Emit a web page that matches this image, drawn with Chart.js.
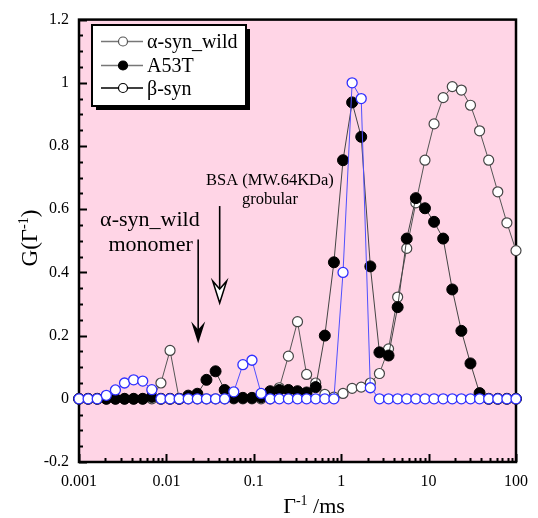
<!DOCTYPE html>
<html>
<head>
<meta charset="utf-8">
<script src="https://cdn.jsdelivr.net/npm/chart.js@4.4.1/dist/chart.umd.min.js"></script>
<style>
    html, body { margin: 0; padding: 0; background: #fff; }
    #wrap { width: 538px; height: 518px; }
</style>
</head>
<body>
<div id="wrap"><canvas id="chart" width="538" height="518"></canvas></div>
<script>
// decay time grid (ms), shared by all three samples
var xValues = [0.001, 0.0012711, 0.0016156, 0.0020535, 0.0026102, 0.0033177, 0.004217, 0.00536,
    0.0068129, 0.0086596, 0.011007, 0.01399, 0.017783, 0.022603, 0.02873, 0.036517,
    0.046416, 0.058997, 0.074989, 0.095316, 0.12115, 0.15399, 0.19573, 0.24879,
    0.31623, 0.40194, 0.5109, 0.64938, 0.8254, 1.0491, 1.3335, 1.695,
    2.1544, 2.7384, 3.4807, 4.4242, 5.6234, 7.1477, 9.0852, 11.548,
    14.678, 18.657, 23.714, 30.142, 38.312, 48.697, 61.897, 78.674, 100];

var alphaWild = [0, 0, 0, 0, 0, 0, 0, 0, 0, 0.05, 0.153, 0, 0, 0, 0, 0,
    0, 0, 0, 0, 0, 0, 0.035, 0.135, 0.244, 0.077, 0.05, 0.014, 0.005, 0.017, 0.033, 0.037,
    0.05, 0.08, 0.158, 0.322, 0.476, 0.62, 0.755, 0.87, 0.953, 0.988, 0.977, 0.929, 0.848, 0.755, 0.655, 0.557, 0.469];

var a53t = [0, 0, 0, 0, 0, 0, 0, 0, 0.006, 0, 0, 0, 0.01, 0.016, 0.06, 0.087,
    0.028, 0.003, 0.003, 0.003, 0.005, 0.024, 0.028, 0.028, 0.024, 0.02, 0.037, 0.2, 0.432, 0.755, 0.938, 0.829,
    0.419, 0.147, 0.137, 0.29, 0.507, 0.635, 0.603, 0.56, 0.507, 0.346, 0.215, 0.112, 0.018, 0, 0, 0, 0];

var betaSyn = [0, 0, 0, 0.011, 0.028, 0.05, 0.06, 0.056, 0.029, 0, 0, 0, 0, 0, 0, 0,
    0, 0.022, 0.108, 0.122, 0.017, 0, 0, 0, 0, 0, 0, 0, 0, 0.4, 1.0, 0.95,
    0.035, 0, 0, 0, 0, 0, 0, 0, 0, 0, 0, 0, 0, 0, 0, 0, 0];

var xDecades = [0.001, 0.01, 0.1, 1, 10, 100];
var xTickLabels = ['0.001', '0.01', '0.1', '1', '10', '100'];
var yTicks = [-0.2, 0, 0.2, 0.4, 0.6, 0.8, 1, 1.2];
var yTickLabels = ['-0.2', '0', '0.2', '0.4', '0.6', '0.8', '1', '1.2'];

var seriesNames = ['\u03b1-syn_wild', 'A53T', '\u03b2-syn'];

var SERIF = "'Liberation Serif', 'Times New Roman', serif";
var PINK = '#ffd5e6';
var BLUE = '#2f2fff';

function toPoints(ys) {
    return xValues.map(function (x, i) { return { x: x, y: ys[i] }; });
}

// pink plot area, inner ticks and frame
var bgPlugin = {
    id: 'plotBg',
    beforeDatasetsDraw: function (chart) {
        var a = chart.chartArea, ctx = chart.ctx;
        ctx.save();
        ctx.fillStyle = PINK;
        ctx.fillRect(a.left, a.top, a.right - a.left, a.bottom - a.top);

        var ys = chart.scales.y, xs = chart.scales.x;
        ctx.strokeStyle = '#000';
        ctx.lineWidth = 2;
        // left axis: major every 0.2, minor every 0.05
        for (var k = 0; k <= 28; k++) {
            var v = -0.2 + k * 0.05;
            var py = Math.round(ys.getPixelForValue(v)) + 0.5;
            var len = (k % 4 === 0) ? 8 : 4;
            ctx.beginPath();
            ctx.moveTo(a.left, py);
            ctx.lineTo(a.left + len, py);
            ctx.stroke();
        }
        // bottom axis (log)
        for (var d = -3; d <= 2; d++) {
            for (var m = 1; m <= 9; m++) {
                var val = m * Math.pow(10, d);
                if (val > 100.0001) continue;
                var px = Math.round(xs.getPixelForValue(val)) + 0.5;
                var l = (m === 1) ? 8 : 4;
                ctx.beginPath();
                ctx.moveTo(px, a.bottom);
                ctx.lineTo(px, a.bottom - l);
                ctx.stroke();
            }
        }
        ctx.lineWidth = 2.5;
        ctx.strokeRect(a.left, a.top, a.right - a.left, a.bottom - a.top);
        ctx.restore();
    }
};

function drawArrow(ctx, x, yStart, yTip, filled) {
    ctx.save();
    ctx.strokeStyle = '#000';
    ctx.lineWidth = 1.6;
    ctx.beginPath();
    ctx.moveTo(x, yStart);
    ctx.lineTo(x, yTip - 12);
    ctx.stroke();
    ctx.beginPath();
    ctx.moveTo(x, yTip);
    ctx.lineTo(x - 7, yTip - 22);
    ctx.lineTo(x, yTip - 14);
    ctx.lineTo(x + 7, yTip - 22);
    ctx.closePath();
    if (filled) {
        ctx.fillStyle = '#000';
        ctx.fill();
    } else {
        ctx.fillStyle = '#fff';
        ctx.fill();
        ctx.lineWidth = 1.5;
        ctx.stroke();
    }
    ctx.restore();
}

// text with a raised "-1", centred on x
function supText(ctx, base, sup, tail, x, y, size) {
    var small = Math.round(size * 0.62);
    ctx.font = size + 'px ' + SERIF;
    var w1 = ctx.measureText(base).width;
    var w3 = ctx.measureText(tail).width;
    ctx.font = small + 'px ' + SERIF;
    var w2 = ctx.measureText(sup).width;
    var x0 = x - (w1 + w2 + w3) / 2;
    ctx.font = size + 'px ' + SERIF;
    ctx.fillText(base, x0, y);
    ctx.fillText(tail, x0 + w1 + w2, y);
    ctx.font = small + 'px ' + SERIF;
    ctx.fillText(sup, x0 + w1, y - size * 0.38);
}

var overlayPlugin = {
    id: 'overlay',
    afterDraw: function (chart) {
        var ctx = chart.ctx, xs = chart.scales.x, ys = chart.scales.y;
        ctx.save();
        ctx.fillStyle = '#000';
        ctx.textBaseline = 'alphabetic';

        // annotations
        ctx.font = '22px ' + SERIF;
        ctx.textAlign = 'center';
        ctx.fillText('\u03b1-syn_wild', xs.getPixelForValue(0.00647), ys.getPixelForValue(0.547));
        ctx.fillText('monomer', xs.getPixelForValue(0.0066), ys.getPixelForValue(0.469));
        ctx.font = '16.5px ' + SERIF;
        ctx.fillText('BSA (MW.64KDa)', xs.getPixelForValue(0.153), ys.getPixelForValue(0.677));
        ctx.fillText('grobular', xs.getPixelForValue(0.153), ys.getPixelForValue(0.616));

        drawArrow(ctx, xs.getPixelForValue(0.0231), ys.getPixelForValue(0.504), ys.getPixelForValue(0.175), true);
        drawArrow(ctx, xs.getPixelForValue(0.0407), ys.getPixelForValue(0.61), ys.getPixelForValue(0.303), false);

        // legend box with drop shadow
        var lx = 92, ly = 25, lw = 154, lh = 81;
        ctx.fillStyle = '#000';
        ctx.fillRect(lx + 4, ly + 4, lw, lh);
        ctx.fillStyle = '#fff';
        ctx.fillRect(lx, ly, lw, lh);
        ctx.lineWidth = 2;
        ctx.strokeStyle = '#000';
        ctx.strokeRect(lx, ly, lw, lh);

        var rows = [41.5, 65.5, 88];
        var lineCols = ['#777', '#777', '#000'];
        var fillCols = ['#fff', '#000', '#fff'];
        var edgeCols = ['#555', '#000', '#000'];
        ctx.textAlign = 'left';
        ctx.font = '20px ' + SERIF;
        rows.forEach(function (ry, i) {
            ctx.strokeStyle = lineCols[i];
            ctx.lineWidth = 1.3;
            ctx.beginPath();
            ctx.moveTo(101, ry);
            ctx.lineTo(143, ry);
            ctx.stroke();
            ctx.beginPath();
            ctx.arc(123, ry, 4.5, 0, Math.PI * 2);
            ctx.fillStyle = fillCols[i];
            ctx.fill();
            ctx.strokeStyle = edgeCols[i];
            ctx.lineWidth = 1.2;
            ctx.stroke();
            ctx.fillStyle = '#000';
            ctx.fillText(seriesNames[i], 147, ry + 6.5);
        });

        // axis titles
        ctx.fillStyle = '#000';
        supText(ctx, '\u0393', '-1', ' /ms', 314, 513, 22);

        ctx.translate(37, 238);
        ctx.rotate(-Math.PI / 2);
        supText(ctx, 'G(\u0393', '-1', ')', 0, 0, 23);
        ctx.restore();
    }
};

new Chart(document.getElementById('chart').getContext('2d'), {
    type: 'line',
    data: {
        datasets: [
            {
                label: seriesNames[2],
                data: toPoints(betaSyn),
                borderColor: '#5050ff',
                borderWidth: 1,
                pointRadius: 5,
                pointBorderWidth: 1.3,
                pointBackgroundColor: '#fff',
                pointBorderColor: BLUE,
                tension: 0,
                clip: false
            },
            {
                label: seriesNames[1],
                data: toPoints(a53t),
                borderColor: '#444',
                borderWidth: 1,
                pointRadius: 5.5,
                pointBorderWidth: 1,
                pointBackgroundColor: '#000',
                pointBorderColor: '#000',
                tension: 0,
                clip: false
            },
            {
                label: seriesNames[0],
                data: toPoints(alphaWild),
                borderColor: '#555',
                borderWidth: 1,
                pointRadius: 5,
                pointBorderWidth: 1.2,
                pointBackgroundColor: '#fff',
                pointBorderColor: '#444',
                tension: 0,
                clip: false
            }
        ]
    },
    options: {
        responsive: false,
        animation: false,
        layout: { padding: { top: 15, right: 15, left: 0, bottom: 0 } },
        plugins: {
            legend: { display: false },
            tooltip: { enabled: false }
        },
        scales: {
            x: {
                type: 'logarithmic',
                min: 0.001,
                max: 100,
                grid: { display: false, drawTicks: false },
                border: { display: false },
                ticks: {
                    autoSkip: false,
                    maxRotation: 0,
                    color: '#000',
                    padding: 10,
                    font: { family: SERIF, size: 16 },
                    callback: function (v) {
                        for (var i = 0; i < xDecades.length; i++) {
                            if (Math.abs(Math.log10(v) - Math.log10(xDecades[i])) < 1e-6) return xTickLabels[i];
                        }
                        return '';
                    }
                },
                afterFit: function (s) { s.height = 56; }
            },
            y: {
                min: -0.2,
                max: 1.2,
                grid: { display: false, drawTicks: false },
                border: { display: false },
                ticks: {
                    stepSize: 0.2,
                    color: '#000',
                    padding: 10,
                    font: { family: SERIF, size: 16 },
                    callback: function (v) {
                        for (var i = 0; i < yTicks.length; i++) {
                            if (Math.abs(v - yTicks[i]) < 1e-6) return yTickLabels[i];
                        }
                        return '';
                    }
                },
                afterFit: function (s) { s.width = 79; }
            }
        }
    },
    plugins: [bgPlugin, overlayPlugin]
});
</script>
</body>
</html>
